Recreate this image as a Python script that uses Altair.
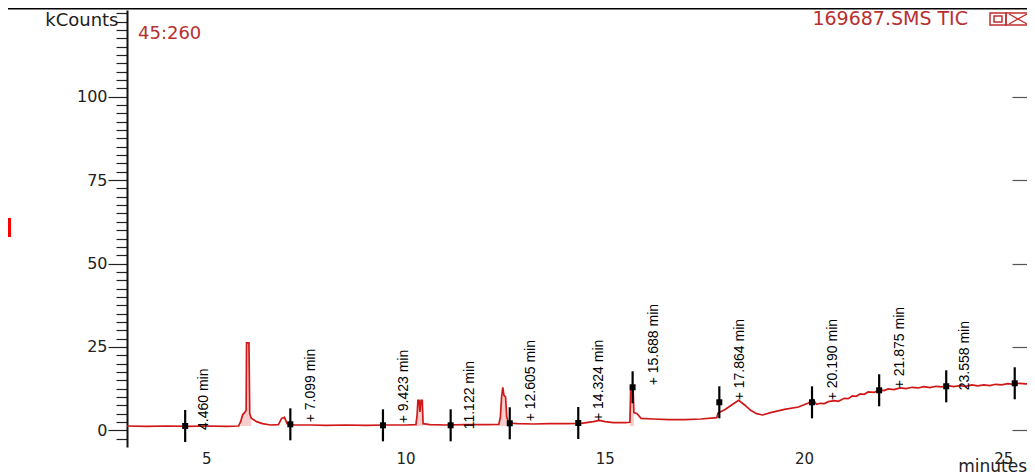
import altair as alt
import pandas as pd

# ---- chromatogram trace (minutes, kCounts) ----
times = [3.0, 3.5, 4.0, 4.5, 5.0, 5.5, 5.8, 5.85, 5.9, 5.95, 5.99, 6.0, 6.06, 6.08, 6.12,
         6.25, 6.4, 6.6, 6.8, 6.88, 6.95, 7.02, 7.2, 7.6, 8.0, 8.5, 9.0, 9.5, 10.0, 10.25,
         10.28, 10.3, 10.33, 10.35, 10.38, 10.41, 10.43, 10.6, 11.0, 11.5, 12.0, 12.33, 12.37,
         12.40, 12.43, 12.46, 12.50, 12.53, 12.58, 12.8, 13.2, 13.6, 14.0, 14.4, 14.7, 14.85,
         15.0, 15.2, 15.5, 15.62, 15.64, 15.7, 15.72, 15.8, 15.9, 16.2, 16.6, 17.0, 17.4, 17.8,
         17.83, 18.0, 18.2, 18.35, 18.5, 18.65, 18.8, 18.95, 19.15, 19.5, 19.85, 20.1, 20.22,
         20.3, 20.4, 20.5, 20.6, 20.75, 20.85, 21.0, 21.1, 21.2, 21.3, 21.4, 21.5, 21.6, 21.75,
         21.9, 22.0, 22.1, 22.25, 22.4, 22.55, 22.7, 22.85, 23.0, 23.15, 23.3, 23.45, 23.6,
         23.75, 23.9, 24.05, 24.2, 24.35, 24.5, 24.65, 24.8, 24.95, 25.1, 25.25, 25.4, 25.55,
         25.75]
counts = [1.3, 1.2, 1.3, 1.2, 1.3, 1.2, 1.3, 2.5, 4.6, 5.3, 6.0, 26.2, 26.2, 5.0, 3.6,
          2.6, 2.0, 1.6, 1.7, 3.6, 3.9, 2.0, 1.6, 1.6, 1.5, 1.6, 1.5, 1.6, 1.6, 1.7,
          4.5, 9.0, 9.0, 5.5, 9.0, 9.0, 2.0, 1.7, 1.6, 1.7, 1.7, 1.8, 4.0,
          10.0, 12.9, 10.5, 10.0, 4.0, 2.2, 2.0, 1.9, 2.0, 2.0, 2.1, 2.6, 3.0,
          2.6, 2.3, 2.3, 2.4, 12.5, 12.8, 5.3, 5.0, 3.6, 3.4, 3.2, 3.2, 3.4, 3.8,
          5.2, 6.2, 7.8, 9.0, 7.6, 6.0, 5.0, 4.6, 5.3, 6.3, 7.0, 8.2, 9.2,
          7.8, 8.1, 8.0, 8.6, 8.9, 8.7, 9.6, 9.5, 10.3, 10.2, 10.9, 10.8, 11.5, 11.4,
          12.1, 11.9, 12.4, 12.2, 12.7, 12.5, 12.9, 12.7, 13.1, 12.8, 13.2, 13.0, 13.4,
          13.1, 13.4, 13.2, 13.6, 13.3, 13.6, 13.4, 13.8, 13.6, 14.0, 13.8, 14.1, 13.9,
          14.1]

# shaded (integrated) peak windows, minutes
peak_windows = [(5.85, 6.12), (10.25, 10.43), (12.33, 12.58), (15.62, 15.72)]
shade_base = 1.3

# ---- labelled retention-time markers ----
marker_labels = ["4.460", "7.099", "9.423", "11.122", "12.605", "14.324", "15.688",
                 "17.864", "20.190", "21.875", "23.558", "25.277"]
marker_times = [4.460, 7.099, 9.423, 11.122, 12.605, 14.324, 15.688, 17.864, 20.190,
                21.875, 23.558, 25.277]
marker_counts = [1.3, 1.8, 1.5, 1.5, 2.1, 2.2, 12.9, 8.4, 8.4, 12.0, 13.2, 14.1]
marker_plus = [False, True, True, False, True, True, True, True, True, True, False, True]

# ---- axis ticks ----
x_ticks = [3.0 + 0.5 * i for i in range(46)]
x_label_ticks = [5, 10, 15, 20, 25]
y_ticks = [-2.5 + 2.5 * i for i in range(52)]
y_right_ticks = [0, 25, 50, 75, 100]

curve = pd.DataFrame({"t": times, "v": counts})


def peak_id(t):
    for i, (a, b) in enumerate(peak_windows):
        if a <= t <= b:
            return i
    return -1


curve["peak"] = [peak_id(t) for t in times]
shade = curve[curve["peak"] >= 0].copy()
shade["base"] = shade_base

half = 4.8
marks = pd.DataFrame({
    "t": marker_times,
    "v": marker_counts,
    "lo": [c - half for c in marker_counts],
    "hi": [c + half for c in marker_counts],
    "label": [("+ " if p else "") + l + " min" for l, p in zip(marker_labels, marker_plus)],
    "plus": marker_plus,
})

FONT = "DejaVu Sans"
NARROW = "Liberation Sans"
W, H = 900, 437

xs = alt.Scale(domain=[3, 25.585], nice=False, zero=False)
ys = alt.Scale(domain=[-5, 126], nice=False, zero=False)

x_axis = alt.Axis(
    values=x_ticks, labels=False, title=None,
    tickSize=5, tickColor="#222", tickWidth=1.2, domainColor="#111", domainWidth=1.5,
    grid=False,
)
y_axis = alt.Axis(
    values=y_ticks,
    labelExpr="(datum.value % 25 === 0 && datum.value <= 100) ? format(datum.value, 'd') : ''",
    tickSize=alt.condition("datum.value % 25 === 0 && datum.value <= 100", alt.value(19), alt.value(11)),
    tickColor="#222", tickWidth=1.2, domainColor="#111", domainWidth=2,
    labelFont=FONT, labelFontSize=16, labelColor="#222", labelPadding=1,
    labelFlush=False, labelOverlap=False, grid=False,
    title="kCounts", titleAngle=0, titleX=-9, titleY=10, titleAlign="right",
    titleBaseline="middle", titleFont=FONT, titleFontSize=18, titleFontWeight="normal",
    titleColor="#222",
)
right_axis = alt.Axis(
    orient="right", offset=-15, values=y_right_ticks, tickSize=15, labels=False,
    domain=False, title=None, tickColor="#555", tickWidth=1.2, grid=False,
)

area = alt.Chart(shade).mark_area(color="#f7c4c4", opacity=0.85, clip=True).encode(
    x=alt.X("t:Q", scale=xs, axis=None),
    y=alt.Y("v:Q", scale=ys, axis=None, stack=None),
    y2="base:Q",
    detail="peak:N",
)
line = alt.Chart(curve).mark_line(color="#d01818", strokeWidth=1.7, clip=True).encode(
    x=alt.X("t:Q", scale=xs, axis=x_axis),
    y=alt.Y("v:Q", scale=ys, axis=y_axis),
)
rules = alt.Chart(marks).mark_rule(color="black", strokeWidth=2.2, clip=True).encode(
    x=alt.X("t:Q", scale=xs, axis=None),
    y=alt.Y("lo:Q", scale=ys, axis=right_axis),
    y2="hi:Q",
)
squares = alt.Chart(marks).mark_square(size=36, color="black", opacity=1).encode(
    x=alt.X("t:Q", scale=xs, axis=None),
    y=alt.Y("v:Q", scale=ys, axis=None),
)
text_plus = alt.Chart(marks).transform_filter("datum.plus").mark_text(
    angle=270, align="left", baseline="middle", dx=2, dy=21,
    font=NARROW, fontSize=14, color="#000",
).encode(
    x=alt.X("t:Q", scale=xs, axis=None),
    y=alt.Y("v:Q", scale=ys, axis=None),
    text="label:N",
)
text_plain = alt.Chart(marks).transform_filter("!datum.plus").mark_text(
    angle=270, align="left", baseline="middle", dx=-4, dy=19,
    font=NARROW, fontSize=14, color="#000",
).encode(
    x=alt.X("t:Q", scale=xs, axis=None),
    y=alt.Y("v:Q", scale=ys, axis=None),
    text="label:N",
)

# x tick labels, placed through the x scale
xlab = alt.Chart(pd.DataFrame({"t": x_label_ticks})).mark_text(
    baseline="top", font=FONT, fontSize=15, color="#222"
).encode(
    x=alt.X("t:Q", scale=xs, axis=None),
    y=alt.value(H + 5),
    text=alt.Text("t:Q", format="d"),
)

one = pd.DataFrame({"k": [0]})
min_text = alt.Chart(one).mark_text(
    align="right", baseline="alphabetic", font=FONT, fontSize=17, color="#222"
).encode(x=alt.value(W), y=alt.value(H + 25), text=alt.value("minutes"))
ion_text = alt.Chart(one).mark_text(
    align="left", baseline="alphabetic", font=FONT, fontSize=18, color="#b83030"
).encode(x=alt.value(11), y=alt.value(29), text=alt.value("45:260"))
file_text = alt.Chart(one).mark_text(
    align="right", baseline="alphabetic", font=FONT, fontSize=19, color="#b83030"
).encode(x=alt.value(841), y=alt.value(15), text=alt.value("169687.SMS TIC"))

top_bar = alt.Chart(one).mark_rule(color="black", strokeWidth=2).encode(
    x=alt.value(-119), x2=alt.value(910), y=alt.value(-1.5))
red_sq = alt.Chart(one).mark_rect(color="#ff0000").encode(
    x=alt.value(-119), x2=alt.value(-116), y=alt.value(208), y2=alt.value(227))
box1 = alt.Chart(one).mark_rect(fill=None, stroke="#c03030", strokeWidth=1.5).encode(
    x=alt.value(863), x2=alt.value(879), y=alt.value(3), y2=alt.value(15))
box1i = alt.Chart(one).mark_rect(fill=None, stroke="#c03030", strokeWidth=1.5).encode(
    x=alt.value(867), x2=alt.value(875), y=alt.value(6), y2=alt.value(12))
box2 = alt.Chart(one).mark_rect(fill=None, stroke="#c03030", strokeWidth=1.5).encode(
    x=alt.value(879), x2=alt.value(903), y=alt.value(3), y2=alt.value(15))
cross1 = alt.Chart(one).mark_rule(color="#c03030", strokeWidth=1.3).encode(
    x=alt.value(882), x2=alt.value(900), y=alt.value(4), y2=alt.value(14))
cross2 = alt.Chart(one).mark_rule(color="#c03030", strokeWidth=1.3).encode(
    x=alt.value(882), x2=alt.value(900), y=alt.value(14), y2=alt.value(4))

chart = alt.layer(
    area, line, rules, squares, text_plus, text_plain, xlab, min_text,
    ion_text, file_text, top_bar, red_sq, box1, box1i, box2, cross1, cross2,
).resolve_axis(y="independent").properties(
    width=W, height=H,
    autosize=alt.AutoSizeParams(type="none"),
    padding={"left": 119, "top": 2, "right": 0, "bottom": 30},
    background="white",
).configure_view(stroke=None)

chart.save("out.html", embed_options={"renderer": "svg", "actions": False})
